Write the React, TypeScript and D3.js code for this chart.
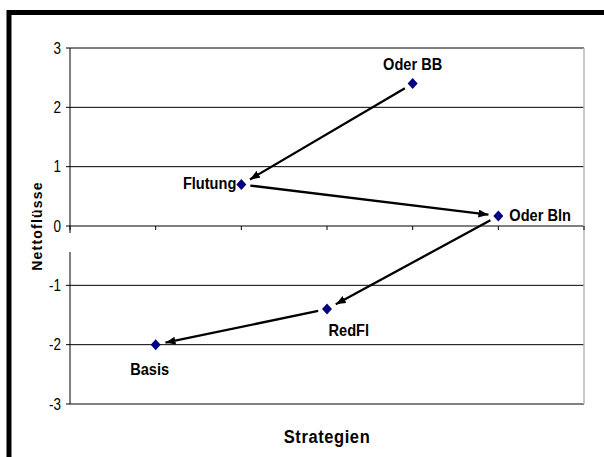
import React from "react";
import * as d3 from "d3";

const categories = ["Basis", "Flutung", "RedFl", "Oder BB", "Oder Bln"];
const xValues = [1, 2, 3, 4, 5];
const yValues = [-2, 0.7, -1.4, 2.4, 0.17];
const yTicks = [-3, -2, -1, 0, 1, 2, 3];
const xTicks = [0, 1, 2, 3, 4, 5, 6];
const arrowOrder = ["Oder BB", "Flutung", "Oder Bln", "RedFl", "Basis"];
const xTitle = "Strategien";
const yTitle = "Nettoflüsse";

// label layout (style config)
const labelLayout: Record<string, { anchor: string; dx: number; dy: number }> = {
  Basis: { anchor: "middle", dx: -6, dy: 30 },
  Flutung: { anchor: "end", dx: -5, dy: 5 },
  RedFl: { anchor: "start", dx: 1.5, dy: 27 },
  "Oder BB": { anchor: "middle", dx: 0, dy: -14 },
  "Oder Bln": { anchor: "start", dx: 11, dy: 5 },
};

const W = 604;
const H = 457;
const M = { left: 70, right: 584, top: 48, bottom: 404 };
const FONT = "'Liberation Sans', Arial, Helvetica, sans-serif";

export default function App() {
  const x = d3.scaleLinear().domain([0, 6]).range([M.left, M.right]);
  const y = d3.scaleLinear().domain([-3, 3]).range([M.bottom, M.top]);

  const pts = categories.map((c, i) => ({ name: c, px: x(xValues[i]), py: y(yValues[i]) }));
  const byName: Record<string, { px: number; py: number }> = {};
  pts.forEach((p) => (byName[p.name] = p));

  const arrows = d3.pairs(arrowOrder).map(([a, b]) => {
    const s = byName[a];
    const t = byName[b];
    const dx = t.px - s.px;
    const dy = t.py - s.py;
    const len = Math.hypot(dx, dy);
    const ux = dx / len;
    const uy = dy / len;
    return {
      x1: s.px + ux * 9,
      y1: s.py + uy * 9,
      x2: t.px - ux * 10,
      y2: t.py - uy * 10,
    };
  });

  const y0 = y(0);

  return (
    <svg
      width={W}
      height={H}
      style={{ position: "absolute", left: 0, top: 0, background: "#fff" }}
      fontFamily={FONT}
    >
      <defs>
        <marker
          id="ah"
          markerUnits="userSpaceOnUse"
          markerWidth={12}
          markerHeight={10}
          refX={10}
          refY={4}
          orient="auto"
        >
          <path d="M0,0 L10,4 L0,8 Z" fill="#000" />
        </marker>
      </defs>
      <rect x={0} y={0} width={W} height={H} fill="#fff" />
      {/* outer thick frame */}
      <rect x={9} y={12.5} width={W + 20} height={H + 20} fill="none" stroke="#000" strokeWidth={5} />

      {/* gridlines */}
      {yTicks.map((t) => (
        <line key={"g" + t} x1={M.left} x2={M.right} y1={y(t)} y2={y(t)} stroke="#000" strokeWidth={1} />
      ))}
      {/* right plot border */}
      <line x1={M.right} x2={M.right} y1={M.top} y2={M.bottom} stroke="#b8b8b8" strokeWidth={1.5} />

      {/* y axis */}
      <line x1={M.left} x2={M.left} y1={M.top} y2={M.bottom} stroke="#000" strokeWidth={1} />
      {yTicks.map((t) => (
        <g key={"yt" + t}>
          <line x1={M.left - 4} x2={M.left} y1={y(t)} y2={y(t)} stroke="#000" />
          <text
            transform={`translate(${M.left - 9},${y(t) + 5.5}) scale(1,1.17)`}
            textAnchor="end"
            fontSize={13.5}
            fill="#000"
          >
            {t}
          </text>
        </g>
      ))}
      {/* x axis ticks */}
      {xTicks.map((t) => (
        <line key={"xt" + t} x1={x(t)} x2={x(t)} y1={y0} y2={y0 + 4} stroke="#000" />
      ))}
      {/* hidden tick label band */}
      <rect x={M.left - 2} y={y0 + 7} width={M.right - M.left} height={19} fill="#fff" />

      {/* arrows */}
      {arrows.map((a, i) => (
        <line
          key={"a" + i}
          x1={a.x1}
          y1={a.y1}
          x2={a.x2}
          y2={a.y2}
          stroke="#000"
          strokeWidth={2.3}
          markerEnd="url(#ah)"
        />
      ))}

      {/* markers */}
      {pts.map((p) => (
        <path
          key={"m" + p.name}
          transform={`translate(${p.px},${p.py})`}
          d="M0,-5.5 L5,0 L0,5.5 L-5,0 Z"
          fill="#000080"
        />
      ))}

      {/* labels */}
      {pts.map((p) => {
        const l = labelLayout[p.name];
        return (
          <text
            key={"l" + p.name}
            transform={`translate(${p.px + l.dx},${p.py + l.dy}) scale(1,1.1)`}
            textAnchor={l.anchor}
            fontSize={14.6}
            fontWeight="bold"
            fill="#000"
          >
            {p.name}
          </text>
        );
      })}

      {/* axis titles */}
      <text
        transform={`translate(${(M.left + M.right) / 2},443) scale(1,1.1)`}
        textAnchor="middle"
        fontSize={16.5}
        fontWeight="bold"
        letterSpacing={0.6}
      >
        {xTitle}
      </text>
      <text
        transform={`translate(42,${(M.top + M.bottom) / 2}) rotate(-90)`}
        textAnchor="middle"
        fontSize={14}
        fontWeight="bold"
        letterSpacing={1.2}
      >
        {yTitle}
      </text>
    </svg>
  );
}
